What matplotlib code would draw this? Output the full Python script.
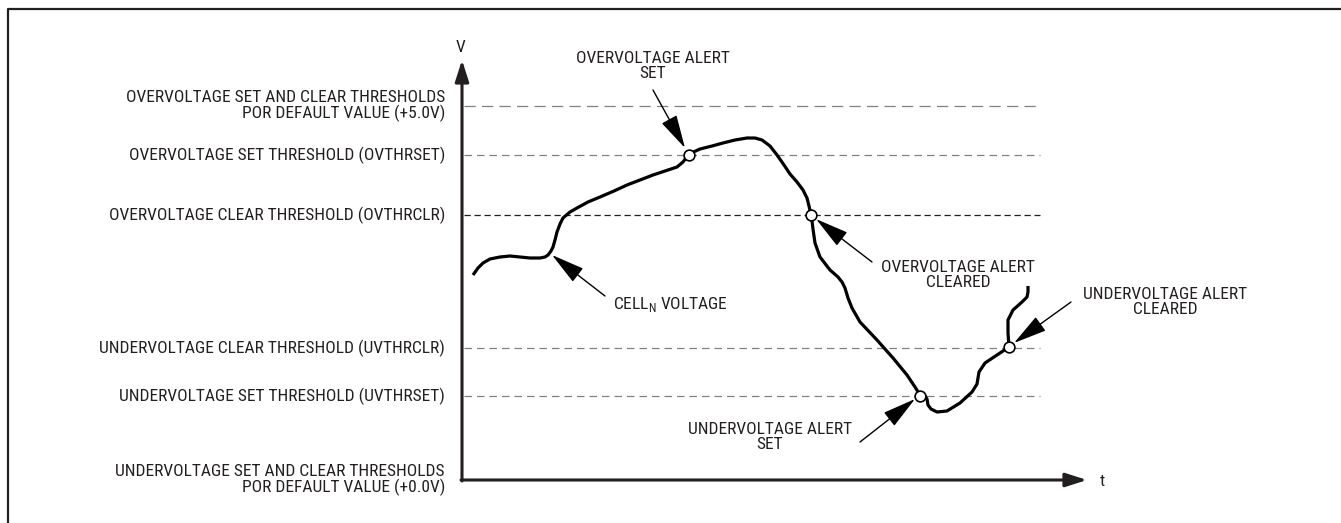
"""
Cell over/undervoltage alert timing diagram.
"""

import matplotlib.pyplot as plt

plt.rcParams.update({
    "font.family": ["Roboto Condensed", "DejaVu Sans"],
    "font.stretch": "condensed",
    "font.size": 12.5,
    "text.color": "#231f20",
})

INK = "#231f20"
GRAY = "#808080"

# Digitized drawing units (x = time, y = screen row, grows downward)
t_origin = 462
v_origin = 480
t_end = 1087
v_top = 60

threshold_levels = [106, 155, 215, 348, 396]
threshold_labels = [
    "OVERVOLTAGE SET AND CLEAR THRESHOLDS\nPOR DEFAULT VALUE (+5.0V)",
    "OVERVOLTAGE SET THRESHOLD (OVTHRSET)",
    "OVERVOLTAGE CLEAR THRESHOLD (OVTHRCLR)",
    "UNDERVOLTAGE CLEAR THRESHOLD (UVTHRCLR)",
    "UNDERVOLTAGE SET THRESHOLD (UVTHRSET)",
]
bottom_label = "UNDERVOLTAGE SET AND CLEAR THRESHOLDS\nPOR DEFAULT VALUE (+0.0V)"

# Cell voltage trace
curve_t = [473, 478, 483, 490, 500, 510, 520, 530, 540, 545, 548, 551, 553, 555,
           557, 560, 563, 570, 577, 588, 600, 614, 627, 640, 653, 665, 677, 683,
           689, 700, 712, 723, 735, 747, 755, 762, 770, 777, 784, 790, 797, 803,
           807, 809, 811, 812, 813, 815, 820, 830, 838, 842, 845, 848, 852, 860,
           877, 893, 907, 915, 920, 925, 927, 928, 931, 937, 947, 960, 972, 977,
           978, 979, 985, 1000, 1009, 1008, 1008, 1013, 1022, 1027, 1028, 1028]
curve_v = [275, 268, 263, 259, 257, 256, 257, 258, 258, 257, 255, 251, 247, 240,
           232, 224, 218, 212, 208, 202, 197, 191, 185, 180, 175, 171, 167, 162,
           154, 149, 146, 143, 140, 138, 138, 140, 146, 155, 165, 174, 182, 190,
           198, 206, 215, 221, 229, 243, 257, 270, 277, 282, 288, 298, 308, 322,
           340, 358, 375, 387, 395, 396, 399, 405, 409, 412, 411, 403, 392, 384,
           378, 372, 363, 353, 347, 333, 320, 310, 302, 297, 292, 286]

# Threshold crossings (open circles)
cross_t = [689, 811, 920, 1009]
cross_v = [155, 215, 396, 347]

# Callouts: text, text position, arrow tail, arrow tip, alignment
callouts = [
    ("OVERVOLTAGE ALERT\nSET", (653, 66), (653, 90), (685, 148), "center"),
    ("CELL$_\\mathregular{N}$ VOLTAGE", (613, 305), (605, 296), (552, 255), "left"),
    ("OVERVOLTAGE ALERT\nCLEARED", (958, 275), (872, 262), (816, 219), "center"),
    ("UNDERVOLTAGE ALERT\nSET", (770, 437), (860, 442), (915, 399), "center"),
    ("UNDERVOLTAGE ALERT\nCLEARED", (1165, 302), (1071, 302), (1014, 343), "center"),
]

fig = plt.figure(figsize=(13.41, 5.23), dpi=100)
ax = fig.add_axes([0, 0, 1, 1])
ax.set_xlim(0, 1341)
ax.set_ylim(523, 0)
ax.axis("off")

# Frame (top and left only)
ax.plot([8, 8, 1341], [523, 9, 9], color=INK, lw=1.6, solid_capstyle="butt")

# Threshold dashed lines
dash_styles = [(0, (9, 5)), (0, (6, 4)), (0, (5, 3)), (0, (6, 4)), (0, (6, 4))]
dash_colors = [GRAY, GRAY, INK, GRAY, GRAY]
for lvl, ls, col in zip(threshold_levels, dash_styles, dash_colors):
    ax.plot([t_origin + 2, 1040], [lvl, lvl], color=col, lw=0.9, linestyle=ls)

# Left labels
for lvl, lab in zip(threshold_levels, threshold_labels):
    ax.text(445, lvl, lab, ha="right", va="center", linespacing=0.95)
ax.text(445, v_origin, bottom_label, ha="right", va="center", linespacing=0.95)

# Axes with arrows
arrow_kw = dict(arrowstyle="-|>,head_length=1.0,head_width=0.32",
                mutation_scale=13, lw=2.2, color=INK, shrinkA=0, shrinkB=0)
ax.annotate("", xy=(t_origin, v_top), xytext=(t_origin, v_origin + 1),
            arrowprops=arrow_kw)
ax.annotate("", xy=(t_end, v_origin), xytext=(t_origin - 1, v_origin),
            arrowprops=arrow_kw)
ax.text(t_origin - 1, 47, "V", ha="center", va="center")
ax.text(t_end + 15, v_origin + 1, "t", ha="center", va="center")

# Voltage trace
ax.plot(curve_t, curve_v, color="black", lw=2.3, solid_joinstyle="round",
        solid_capstyle="butt", zorder=3)
ax.scatter(cross_t, cross_v, s=60, facecolor="white", edgecolor="black",
           linewidth=1.2, zorder=4)

# Callouts
call_kw = dict(arrowstyle="-|>,head_length=1.5,head_width=0.38",
               mutation_scale=14, lw=1.0, color="black", shrinkA=0, shrinkB=0)
for text, pos, tail, tip, align in callouts:
    ax.text(pos[0], pos[1], text, ha=align, va="center", linespacing=0.95,
            multialignment="center")
    ax.annotate("", xy=tip, xytext=tail, arrowprops=call_kw, zorder=5)

fig.savefig("out.png", dpi=100, facecolor="white")
